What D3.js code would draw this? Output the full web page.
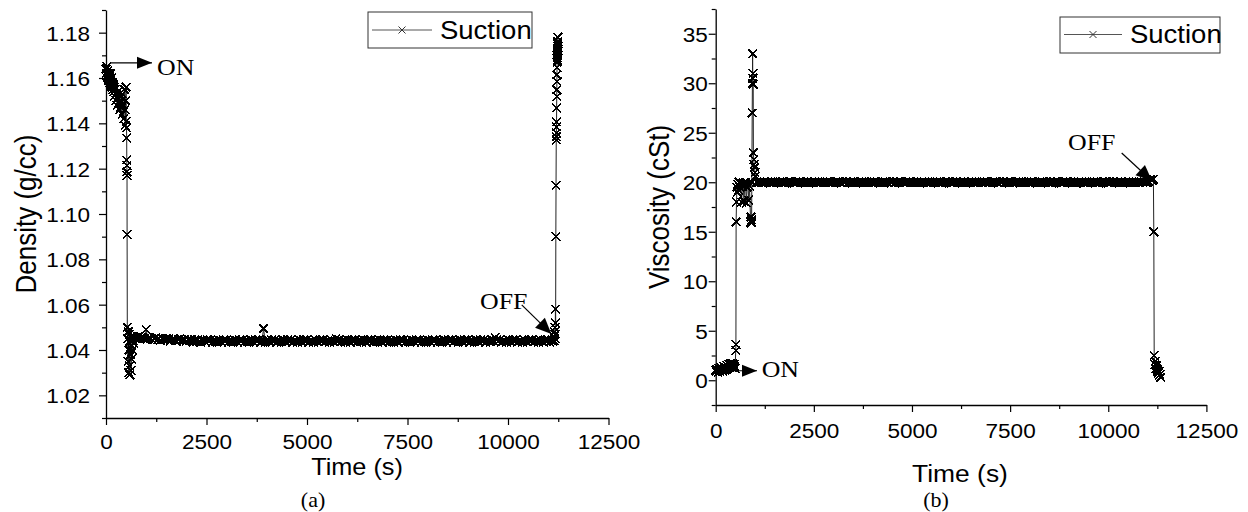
<!DOCTYPE html>
<html><head><meta charset="utf-8">
<script src="https://cdn.jsdelivr.net/npm/d3@7"></script>
<style>body{margin:0;background:#fff}svg{display:block}</style>
</head><body>
<svg id="c" width="1248" height="512"></svg>
<script>
// ---------- DATA ----------
const seriesName = "Suction";
const timeTicks = [0, 2500, 5000, 7500, 10000, 12500];
const timeMinor = [1250, 3750, 6250, 8750, 11250];
const densTicks = [1.02, 1.04, 1.06, 1.08, 1.10, 1.12, 1.14, 1.16, 1.18];
const densMinor = [1.01, 1.03, 1.05, 1.07, 1.09, 1.11, 1.13, 1.15, 1.17, 1.19];
const viscTicks = [0, 5, 10, 15, 20, 25, 30, 35];
const viscMinor = [-2.5, 2.5, 7.5, 12.5, 17.5, 22.5, 27.5, 32.5, 37.5];

// Density (a): start, drop, dip, plateau, end rise
const densT1 = [0,10,20,30,40,50,60,70,80,90,100,110,120,130,140,150,160,170,180,190,200,215,230,245,260,275,290,305,320,335,350,365,380,395,410,425,440,455,470,480,490,500,505,510];
const densV1 = [1.164,1.162,1.165,1.161,1.163,1.160,1.162,1.159,1.161,1.158,
  1.160,1.162,1.158,1.157,1.160,1.156,1.158,1.155,1.157,1.154,
  1.156,1.152,1.155,1.150,1.153,1.148,1.151,1.154,1.149,1.146,
  1.152,1.147,1.150,1.144,1.153,1.148,1.142,1.155,1.146,1.139,
  1.150,1.156,1.141,1.138];
const densT2 = [515,517,519,521,523,525];
const densV2 = [1.1335,1.1238,1.1213,1.1186,1.117,1.091];
const densT3 = [530,538,546,554,562,570,578,586,594,602,610,618,626,634,642,650,660,670,680,690];
const densV3 = [1.050,1.045,1.035,1.048,1.030,1.040,1.047,1.033,1.029,1.044,1.038,1.046,1.031,1.042,1.036,1.045,1.040,1.044,1.046,1.043];
const densT4 = [720,760,800,840,880,920,960,1000,1040,1080,
  1120,1160,1200,1240,1280,1320,1360,1400,1440,1480,
  1520,1560,1600,1640,1680,1720,1760,1800,1840,1880,
  1920,1960,2000,2040,2080,2120,2160,2200,2240,2280,
  2320,2360,2400,2440,2480,2520,2560,2600,2640,2680,
  2720,2760,2800,2840,2880,2920,2960,3000,3040,3080,
  3120,3160,3200,3240,3280,3320,3360,3400,3440,3480,
  3520,3560,3600,3640,3680,3720,3760,3800,3840,3880,
  3920,3960,4000,4040,4080,4120,4160,4200,4240,4280,
  4320,4360,4400,4440,4480,4520,4560,4600,4640,4680,
  4720,4760,4800,4840,4880,4920,4960,5000,5040,5080,
  5120,5160,5200,5240,5280,5320,5360,5400,5440,5480,
  5520,5560,5600,5640,5680,5720,5760,5800,5840,5880,
  5920,5960,6000,6040,6080,6120,6160,6200,6240,6280,
  6320,6360,6400,6440,6480,6520,6560,6600,6640,6680,
  6720,6760,6800,6840,6880,6920,6960,7000,7040,7080,
  7120,7160,7200,7240,7280,7320,7360,7400,7440,7480,
  7520,7560,7600,7640,7680,7720,7760,7800,7840,7880,
  7920,7960,8000,8040,8080,8120,8160,8200,8240,8280,
  8320,8360,8400,8440,8480,8520,8560,8600,8640,8680,
  8720,8760,8800,8840,8880,8920,8960,9000,9040,9080,
  9120,9160,9200,9240,9280,9320,9360,9400,9440,9480,
  9520,9560,9600,9640,9680,9720,9760,9800,9840,9880,
  9920,9960,10000,10040,10080,10120,10160,10200,10240,10280,
  10320,10360,10400,10440,10480,10520,10560,10600,10640,10680,
  10720,10760,10800,10840,10880,10920,10960,11000,11040,11080,
  11120];
const densV4 = [1.0455,1.045,1.046,1.045,1.0455,1.045,1.045,1.049,1.045,1.0455,
  1.045,1.0445,1.045,1.0455,1.0445,1.045,1.0445,1.045,1.0445,1.045,
  1.0445,1.045,1.044,1.0445,1.045,1.0445,1.044,1.0445,1.045,1.0445,
  1.044,1.0445,1.044,1.0445,1.044,1.0445,1.0435,1.0445,1.044,1.0445,
  1.044,1.0435,1.0445,1.044,1.0435,1.0445,1.044,1.0445,1.0435,1.044,
  1.044,1.0435,1.0445,1.044,1.0435,1.0445,1.044,1.0445,1.0435,1.044,
  1.044,1.0435,1.0445,1.044,1.0435,1.0445,1.044,1.0445,1.0435,1.044,
  1.044,1.0435,1.0445,1.044,1.0435,1.0445,1.044,1.0445,1.0435,1.044,
  1.0495,1.0435,1.0445,1.044,1.0435,1.0445,1.044,1.0445,1.0435,1.044,
  1.044,1.0435,1.0445,1.044,1.0435,1.0445,1.044,1.0445,1.0435,1.044,
  1.044,1.0435,1.0445,1.044,1.0435,1.0445,1.044,1.0445,1.0435,1.044,
  1.044,1.0435,1.0445,1.044,1.0435,1.0445,1.044,1.0445,1.0435,1.044,
  1.044,1.0435,1.0445,1.044,1.0435,1.045,1.044,1.0445,1.0435,1.044,
  1.044,1.0435,1.0445,1.044,1.0435,1.0445,1.044,1.0445,1.0435,1.044,
  1.044,1.0435,1.0445,1.044,1.0435,1.0445,1.044,1.0445,1.0435,1.044,
  1.044,1.0435,1.0445,1.044,1.0435,1.0445,1.044,1.0445,1.0435,1.044,
  1.044,1.0435,1.0445,1.044,1.0435,1.0445,1.044,1.0445,1.0435,1.044,
  1.044,1.0435,1.0445,1.044,1.0435,1.0445,1.044,1.0445,1.0435,1.044,
  1.044,1.0435,1.0445,1.044,1.0435,1.0445,1.044,1.0445,1.0435,1.044,
  1.044,1.0435,1.0445,1.044,1.0435,1.0445,1.044,1.0445,1.0435,1.044,
  1.044,1.0435,1.0445,1.044,1.0435,1.0445,1.044,1.0445,1.0435,1.044,
  1.044,1.0435,1.0445,1.044,1.0435,1.0445,1.044,1.0445,1.0435,1.044,
  1.044,1.0435,1.0445,1.044,1.0455,1.0445,1.044,1.0445,1.0435,1.044,
  1.044,1.0435,1.0445,1.044,1.0435,1.0445,1.044,1.0445,1.0435,1.044,
  1.044,1.0435,1.0445,1.044,1.0435,1.0445,1.044,1.0445,1.0435,1.044,
  1.044,1.0435,1.0445,1.044,1.0435,1.0445,1.044,1.0445,1.0435,1.044,
  1.044];
const densT5 = [11140,11150,11160,11165,11170,11175,11180,11185,11190,11195,11200,11202,11204,11206,11208,11210,11212,11214,11216,11218,11220,11222,11224,11226,11228,11230,11232,11234,11236,11238,11240,11242,11244,11246];
const densV5 = [1.046,1.044,1.048,1.045,1.050,1.047,1.058,1.052,1.090,1.1127,1.1326,1.1341,1.1357,1.1385,1.1407,1.1468,1.1518,1.1548,1.1585,1.1614,1.1645,1.167,1.170,1.172,1.169,1.175,1.171,1.173,1.168,1.176,1.174,1.178,1.170,1.172];

// Viscosity (b)
const viscT1 = [0,15,30,45,60,75,90,105,120,135,150,165,180,195,210,225,240,255,270,285,300,315,330,345,360,375,390,405,420,435,450,465,480,495];
const viscV1 = [1.0,0.9,1.1,1.0,0.8,1.2,1.0,0.9,1.1,1.3,1.0,1.2,0.9,1.1,1.4,1.0,1.2,1.3,1.1,1.5,1.2,1.4,1.6,1.3,1.5,1.7,1.4,1.6,1.3,1.7,1.5,1.6,1.4,1.2];
const viscT2 = [510,515,520,530,540,550,560,580,600,620,640,660,680,700,720,740,760,780,800,820,840,860];
const viscV2 = [3.0,3.6,16.0,18.0,19.5,19.0,19.8,19.2,20.0,19.5,19.8,18.0,19.6,19.9,18.1,19.7,20.0,17.9,19.5,19.8,18.2,19.6];
const viscT3 = [890,900,905,910,915,920,930,935,940,945,950,955,960,970,980,990,1000,1010];
const viscV3 = [16.0,16.5,15.9,16.2,16.0,20.0,27.0,30.0,33.0,30.5,31.0,29.9,23.0,22.3,21.8,21.5,21.0,20.6];
const viscT4 = [1040,1080,1120,1160,1200,1240,1280,1320,1360,1400,
  1440,1480,1520,1560,1600,1640,1680,1720,1760,1800,
  1840,1880,1920,1960,2000,2040,2080,2120,2160,2200,
  2240,2280,2320,2360,2400,2440,2480,2520,2560,2600,
  2640,2680,2720,2760,2800,2840,2880,2920,2960,3000,
  3040,3080,3120,3160,3200,3240,3280,3320,3360,3400,
  3440,3480,3520,3560,3600,3640,3680,3720,3760,3800,
  3840,3880,3920,3960,4000,4040,4080,4120,4160,4200,
  4240,4280,4320,4360,4400,4440,4480,4520,4560,4600,
  4640,4680,4720,4760,4800,4840,4880,4920,4960,5000,
  5040,5080,5120,5160,5200,5240,5280,5320,5360,5400,
  5440,5480,5520,5560,5600,5640,5680,5720,5760,5800,
  5840,5880,5920,5960,6000,6040,6080,6120,6160,6200,
  6240,6280,6320,6360,6400,6440,6480,6520,6560,6600,
  6640,6680,6720,6760,6800,6840,6880,6920,6960,7000,
  7040,7080,7120,7160,7200,7240,7280,7320,7360,7400,
  7440,7480,7520,7560,7600,7640,7680,7720,7760,7800,
  7840,7880,7920,7960,8000,8040,8080,8120,8160,8200,
  8240,8280,8320,8360,8400,8440,8480,8520,8560,8600,
  8640,8680,8720,8760,8800,8840,8880,8920,8960,9000,
  9040,9080,9120,9160,9200,9240,9280,9320,9360,9400,
  9440,9480,9520,9560,9600,9640,9680,9720,9760,9800,
  9840,9880,9920,9960,10000,10040,10080,10120,10160,10200,
  10240,10280,10320,10360,10400,10440,10480,10520,10560,10600,
  10640,10680,10720,10760,10800,10840,10880,10920,10960,11000,
  11040,11080,11120];
const viscV4 = [20.0,19.95,20.05,20.0,19.95,20.05,20.0,20.05,19.95,20.0,
  20.0,19.95,20.05,20.0,19.95,20.05,20.0,20.05,19.95,20.0,
  20.0,19.95,20.05,20.0,19.95,20.05,20.0,20.05,19.95,20.0,
  20.0,19.95,20.05,20.0,19.95,20.05,20.0,20.05,19.95,20.0,
  20.0,19.95,20.05,20.0,19.95,20.05,20.0,20.05,19.95,20.0,
  20.0,19.95,20.05,20.0,19.95,20.05,20.0,20.05,19.95,20.0,
  20.0,19.95,20.05,20.0,19.95,20.05,20.0,20.05,19.95,20.0,
  20.0,19.95,20.05,20.0,19.95,20.05,20.0,20.05,19.95,20.0,
  20.0,19.95,20.05,20.0,19.95,20.05,20.0,20.05,19.95,20.0,
  20.0,19.95,20.05,20.0,19.95,20.05,20.0,20.05,19.95,20.0,
  20.0,19.95,20.05,20.0,19.95,20.05,20.0,20.05,19.95,20.0,
  20.0,19.95,20.05,20.0,19.95,20.05,20.0,20.05,19.95,20.0,
  20.0,19.95,20.05,20.0,19.95,20.05,20.0,20.05,19.95,20.0,
  20.0,19.95,20.05,20.0,19.95,20.05,20.0,20.05,19.95,20.0,
  20.0,19.95,20.05,20.0,19.95,20.05,20.0,20.05,19.95,20.0,
  20.0,19.95,20.05,20.0,19.95,20.05,20.0,20.05,19.95,20.0,
  20.0,19.95,20.05,20.0,19.95,20.05,20.0,20.05,19.95,20.0,
  20.0,19.95,20.05,20.0,19.95,20.05,20.0,20.05,19.95,20.0,
  20.0,19.95,20.05,20.0,19.95,20.05,20.0,20.05,19.95,20.0,
  20.0,19.95,20.05,20.0,19.95,20.05,20.0,20.05,19.95,20.0,
  20.0,19.95,20.05,20.0,19.95,20.05,20.0,20.05,19.95,20.0,
  20.0,19.95,20.05,20.0,19.95,20.05,20.0,20.05,19.95,20.0,
  20.0,19.95,20.05,20.0,19.95,20.05,20.0,20.05,19.95,20.0,
  20.0,19.95,20.05,20.0,19.95,20.05,20.0,20.05,19.95,20.0,
  20.0,19.95,20.05,20.0,19.95,20.05,20.0,20.05,19.95,20.0,
  20.1,20.3,20.2];
const viscT5 = [11150,11160,11170,11185,11200,11215,11230,11245,11260,11275,11290,11305,11320,11335];
const viscV5 = [20.3,15.0,2.5,1.6,1.9,1.2,1.5,0.9,1.1,0.7,0.9,0.5,0.6,0.3];

// ---------- DRAWING ----------
const SX = 1.1;                // horizontal stretch of the original figure's text
const SANS = "Arial, 'Liberation Sans', sans-serif";
const SERIF = "'Times New Roman', 'Liberation Serif', serif";
const svg = d3.select("#c");

function txt(parent, s, x, y, size, family, anchor, rot) {
  return parent.append("text")
    .attr("transform", `translate(${x},${y}) scale(${SX},1)` + (rot ? ` rotate(${rot})` : ""))
    .attr("font-size", size).attr("font-family", family)
    .attr("text-anchor", anchor || "start").attr("fill", "#000").text(s);
}
const xMark = s => `M${-s},${-s}L${s},${s}M${-s},${s}L${s},${-s}`;

function arrow(g, x1, y1, x2, y2, len, hw) {
  g.append("line").attr("x1", x1).attr("y1", y1).attr("x2", x2).attr("y2", y2)
    .attr("stroke", "#000").attr("stroke-width", 1.2);
  const a = Math.atan2(y2 - y1, x2 - x1);
  const bx = x2 - len * Math.cos(a), by = y2 - len * Math.sin(a);
  const px = -Math.sin(a) * hw, py = Math.cos(a) * hw;
  g.append("path").attr("d", `M${x2},${y2}L${bx + px},${by + py}L${bx - px},${by - py}Z`).attr("fill", "#000");
}

const panels = [
  { xr: [106, 608.5], yr: [418, 10], yd: [1.01, 1.19], yTicks: densTicks, yMinor: densMinor, fmt: d3.format(".2f"),
    T: [].concat(densT1, densT2, densT3, densT4, densT5), V: [].concat(densV1, densV2, densV3, densV4, densV5),
    yLabOff: 16, xLabBase: 31, yTitle: "Density (g/cc)", yTitleX: 36, yTitleY: 214,
    xTitleX: 357, xTitleY: 475, xTitleSize: 23, cap: "(a)", capX: 313, capY: 507,
    leg: { x0: 368, y0: 12, w: 164, h: 36, l1: 372, l2: 432, ly: 30, tx: 440, ty: 39 },
    on: { from: [100, 1.1667], to: [1144, 1.1667], text: [1269, 1.1613] },
    off: { from: [10341, 1.0599], to: [11080, 1.0471], text: [9303, 1.0581] } },
  { xr: [715.7, 1206.4], yr: [405, 9], yd: [-2.5, 37.5], yTicks: viscTicks, yMinor: viscMinor, fmt: d3.format("d"),
    T: [].concat(viscT1, viscT2, viscT3, viscT4, viscT5), V: [].concat(viscV1, viscV2, viscV3, viscV4, viscV5),
    yLabOff: 8, xLabBase: 33, yTitle: "Viscosity (cSt)", yTitleX: 669, yTitleY: 207,
    xTitleX: 960, xTitleY: 482, xTitleSize: 24, cap: "(b)", capX: 936, capY: 507,
    leg: { x0: 1060, y0: 17, w: 160, h: 36, l1: 1064, l2: 1122, ly: 34.5, tx: 1130, ty: 43 },
    on: { from: [160, 0.96], to: [1052, 0.96], text: [1172, 0.36] },
    off: { from: [10342, 22.95], to: [11114, 20.13], text: [8974, 23.26] } }
];

panels.forEach(p => {
  const x = d3.scaleLinear().domain([0, 12500]).range(p.xr);
  const y = d3.scaleLinear().domain(p.yd).range(p.yr);
  const g = svg.append("g");
  const y0 = p.yr[0];

  // minor ticks
  g.append("g").attr("transform", `translate(0,${y0})`)
    .call(d3.axisBottom(x).tickValues(timeMinor).tickSize(4).tickFormat(""))
    .call(a => a.select(".domain").remove());
  g.append("g").attr("transform", `translate(${p.xr[0]},0)`)
    .call(d3.axisLeft(y).tickValues(p.yMinor).tickSize(4).tickFormat(""))
    .call(a => a.select(".domain").remove());

  // major axes
  const xa = g.append("g").attr("transform", `translate(0,${y0})`)
    .call(d3.axisBottom(x).tickValues(timeTicks).tickSize(7).tickSizeOuter(0).tickFormat(d3.format("d")));
  xa.selectAll("text").attr("y", null).attr("dy", null)
    .attr("transform", `translate(0,${p.xLabBase}) scale(${SX},1)`);
  const ya = g.append("g").attr("transform", `translate(${p.xr[0]},0)`)
    .call(d3.axisLeft(y).tickValues(p.yTicks).tickSize(7).tickSizeOuter(0).tickFormat(p.fmt));
  ya.selectAll("text").attr("x", null).attr("dy", "0.36em")
    .attr("transform", `translate(${-p.yLabOff},0) scale(${SX},1)`);
  g.selectAll(".tick line").attr("stroke", "#000").attr("stroke-width", 1.2);
  g.selectAll(".domain").attr("stroke", "#000").attr("stroke-width", 1.3);
  g.selectAll(".tick text").attr("font-size", 20.5).attr("font-family", SANS).attr("fill", "#000");

  // series
  const line = d3.line().x((d, i) => x(p.T[i])).y(d => y(d));
  g.append("path").datum(p.V).attr("d", line).attr("fill", "none").attr("stroke", "#222").attr("stroke-width", 1);
  g.append("g").attr("shape-rendering", "crispEdges").selectAll("path").data(p.V).join("path")
    .attr("transform", (d, i) => `translate(${x(p.T[i])},${y(d)})`)
    .attr("d", xMark(4.3)).attr("fill", "none").attr("stroke", "#000").attr("stroke-width", 1.6);

  // titles
  txt(g, "Time (s)", p.xTitleX, p.xTitleY, p.xTitleSize, SANS, "middle");
  txt(g, p.yTitle, p.yTitleX, p.yTitleY, 26, SANS, "middle", -90);
  txt(g, p.cap, p.capX, p.capY, 20, SERIF, "middle");

  // legend
  const L = p.leg;
  g.append("rect").attr("x", L.x0).attr("y", L.y0).attr("width", L.w).attr("height", L.h)
    .attr("fill", "#fff").attr("stroke", "#333").attr("stroke-width", 1);
  g.append("line").attr("x1", L.l1).attr("x2", L.l2).attr("y1", L.ly).attr("y2", L.ly).attr("stroke", "#555");
  g.append("path").attr("transform", `translate(${(L.l1 + L.l2) / 2},${L.ly})`).attr("d", xMark(3.5))
    .attr("fill", "none").attr("stroke", "#333");
  txt(g, seriesName, L.tx, L.ty, 25, SANS, "start");

  // annotations
  arrow(g, x(p.on.from[0]), y(p.on.from[1]), x(p.on.to[0]), y(p.on.to[1]), 15, 6);
  txt(g, "ON", x(p.on.text[0]), y(p.on.text[1]), 23.5, SERIF, "start");
  arrow(g, x(p.off.from[0]), y(p.off.from[1]), x(p.off.to[0]), y(p.off.to[1]), 16, 7);
  txt(g, "OFF", x(p.off.text[0]), y(p.off.text[1]), 23.5, SERIF, "start");
});
</script>
</body></html>
